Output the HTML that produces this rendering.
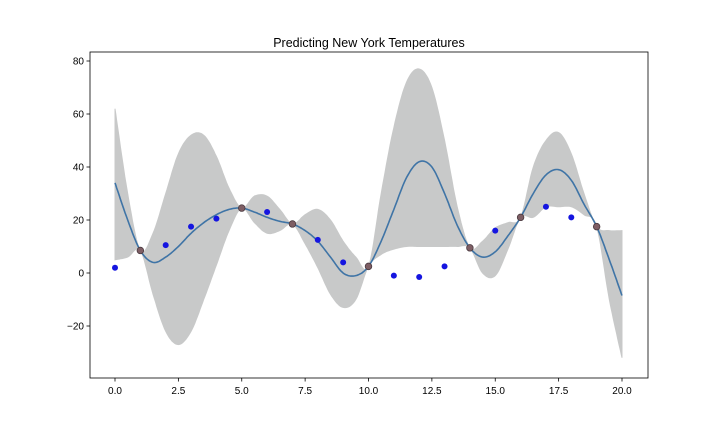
<!DOCTYPE html>
<html><head><meta charset="utf-8"><style>
body{margin:0;background:#fff;}
svg text{font-family:"Liberation Sans","DejaVu Sans",sans-serif;}
</style></head><body>
<svg id="chart" width="720" height="432">
<rect width="720" height="432" fill="#fff"/>
<text x="369" y="47" font-size="12.5" text-anchor="middle" fill="#000">Predicting New York Temperatures</text>
<g id="band"></g>
<g id="line"></g>
<g id="pts"></g>
<g id="axes"></g>
</svg>
<script>
const gridX=[0,0.5,1,1.5,2,2.5,3,3.5,4,4.5,5,5.5,6,6.5,7,7.5,8,8.5,9,9.5,10,10.5,11,11.5,12,12.5,13,13.5,14,14.5,15,15.5,16,16.5,17,17.5,18,18.5,19,19.5,20];
const meanVals=[34,20,8.5,4,6,10,15,19,22,24,24.5,23,21,19.5,18.5,16,12,6,0,-1,2.5,12,24,36,42,40,30,18,9.5,6,8,14,21,30,37,39,35,26,17.5,5,-8.5];
const upperVals=[62,30,8.5,15,30,45,52,52,44,32,24.5,29,29,24,18.5,22,24,20,12,6,2.5,30,55,72,77,70,50,25,9.5,12,17,19,21,40,50,53,45,30,17.5,16,16];
const lowerVals=[5,6,8.5,-8,-22,-27,-22,-10,3,16,24.5,19,15,16,18.5,11,2,-8,-13,-10,2.5,7,9,10,10,10,10,10,9.5,0,-1,9,21,21,25,25,25,22,17.5,-10,-32];
const obsX=[0,1,2,3,4,5,6,7,8,9,10,11,12,13,14,15,16,17,18,19];
const obsY=[2,8.5,10.5,17.5,20.5,24.5,23,18.5,12.5,4,2.5,-1,-1.5,2.5,9.5,16,21,25,21,17.5];
const trainX=[1,5,7,10,14,16,19];
const trainY=[8.5,24.5,18.5,2.5,9.5,21,17.5];
const xTicks=[0,2.5,5,7.5,10,12.5,15,17.5,20];
const xTickLabels=["0.0","2.5","5.0","7.5","10.0","12.5","15.0","17.5","20.0"];
const yTicks=[-20,0,20,40,60,80];
const yTickLabels=["\u221220","0","20","40","60","80"];

const NS="http://www.w3.org/2000/svg";
const L=90,R=648,T=52,B=378;
const sx=v=>115+v*(622-115)/20;
const sy=v=>273-v*2.65;
function mk(tag,attrs,parent){const e=document.createElementNS(NS,tag);for(const k in attrs)e.setAttribute(k,attrs[k]);parent.appendChild(e);return e;}
function cr(xs,ys){ // catmull-rom path points
  const out=[];
  for(let i=0;i<xs.length-1;i++){
    const p0=[xs[Math.max(i-1,0)],ys[Math.max(i-1,0)]],p1=[xs[i],ys[i]],p2=[xs[i+1],ys[i+1]],p3=[xs[Math.min(i+2,xs.length-1)],ys[Math.min(i+2,xs.length-1)]];
    for(let t=0;t<1;t+=0.1){
      const t2=t*t,t3=t2*t;
      const f=(a,b,c,d)=>0.5*((2*b)+(-a+c)*t+(2*a-5*b+4*c-d)*t2+(-a+3*b-3*c+d)*t3);
      out.push([f(p0[0],p1[0],p2[0],p3[0]),f(p0[1],p1[1],p2[1],p3[1])]);
    }
  }
  out.push([xs[xs.length-1],ys[ys.length-1]]);
  return out;
}
const up=cr(gridX,upperVals),lo=cr(gridX,lowerVals),mn=cr(gridX,meanVals);
let d="M"+up.map(p=>sx(p[0]).toFixed(1)+","+sy(p[1]).toFixed(1)).join("L");
d+="L"+lo.slice().reverse().map(p=>sx(p[0]).toFixed(1)+","+sy(p[1]).toFixed(1)).join("L")+"Z";
const band=mk("path",{d:d,fill:"#c8c9c9",stroke:"#c8c9c9","stroke-width":1},document.getElementById("band"));


const ln=mk("path",{d:"M"+mn.map(p=>sx(p[0]).toFixed(1)+","+sy(p[1]).toFixed(1)).join("L"),fill:"none",stroke:"#3f74a6","stroke-width":1.6},document.getElementById("line"));


const pg=document.getElementById("pts");
obsX.forEach((x,i)=>{const c=mk("circle",{cx:sx(x),cy:sy(obsY[i]),r:3,fill:"#1515e0"},pg);

});
trainX.forEach((x,i)=>{const c=mk("circle",{cx:sx(x),cy:sy(trainY[i]),r:3.3,fill:"#7e5e64",stroke:"#4a3a40","stroke-width":0.8},pg);

});
const ax=document.getElementById("axes");
mk("rect",{x:L,y:T,width:R-L,height:B-T,fill:"none",stroke:"#000","stroke-width":0.8},ax);
xTicks.forEach((v,i)=>{mk("line",{x1:sx(v),x2:sx(v),y1:B,y2:B+3.5,stroke:"#000","stroke-width":0.8},ax);
const t=mk("text",{x:sx(v),y:B+16,"font-size":10,"text-anchor":"middle"},ax);t.textContent=xTickLabels[i];

});
yTicks.forEach((v,i)=>{mk("line",{x1:L-3.5,x2:L,y1:sy(v),y2:sy(v),stroke:"#000","stroke-width":0.8},ax);
const t=mk("text",{x:L-6,y:sy(v)+3.5,"font-size":10,"text-anchor":"end"},ax);t.textContent=yTickLabels[i];

});
</script>
</body></html>
